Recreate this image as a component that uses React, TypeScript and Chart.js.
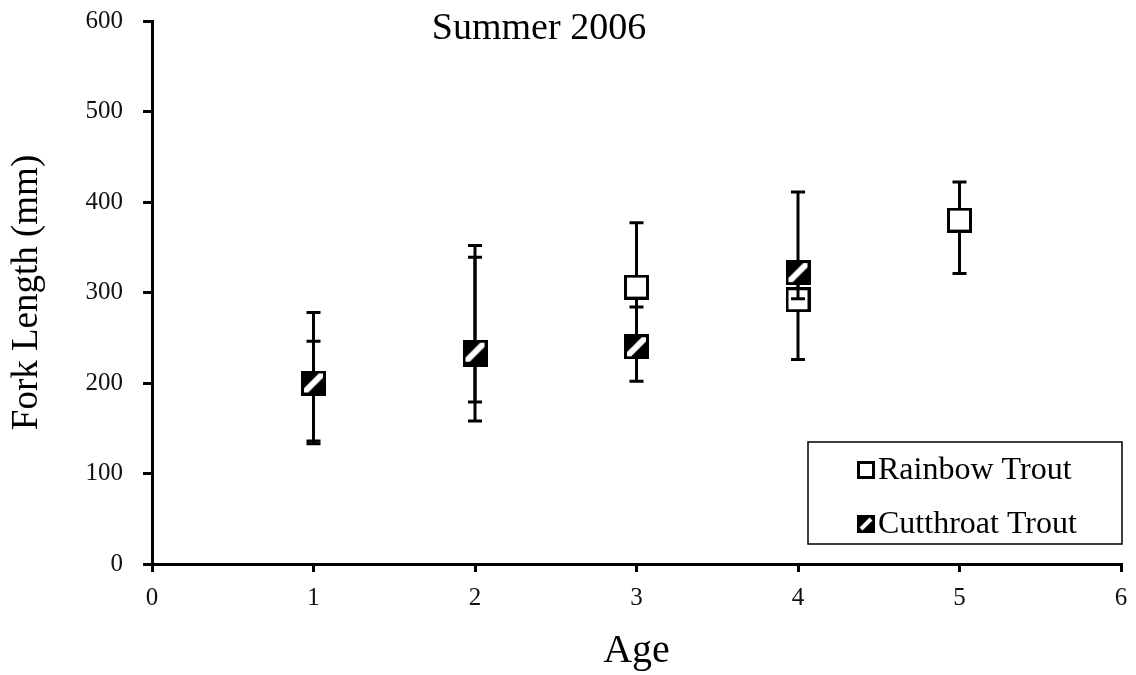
import React, { useEffect, useRef } from "react";
import { Chart, registerables } from "chart.js";

Chart.register(...registerables);

// ---- data ----
const ages = [1, 2, 3, 4, 5];
const rainbowMean = [199, 232, 306, 292, 380];
const rainbowHigh = [246, 339, 377, 330, 422];
const rainbowLow = [133, 179, 236, 226, 321];

const cutthroatAges = [1, 2, 3, 4];
const cutthroatMean = [200, 234, 240, 322];
const cutthroatHigh = [278, 352, 284, 411];
const cutthroatLow = [136, 158, 202, 293];

const seriesLabels = ["Rainbow Trout", "Cutthroat Trout"];
const chartTitle = "Summer 2006";
const xTitle = "Age";
const yTitle = "Fork Length (mm)";
const xTickValues = [0, 1, 2, 3, 4, 5, 6];
const yTickValues = [0, 100, 200, 300, 400, 500, 600];

const FONT = "'Liberation Serif', 'Times New Roman', serif";

function makeMarker(hatched: boolean, size: number, lw: number): HTMLCanvasElement {
  const c = document.createElement("canvas");
  c.width = size;
  c.height = size;
  const ctx = c.getContext("2d")!;
  ctx.fillStyle = "#fff";
  ctx.fillRect(0, 0, size, size);
  if (hatched) {
    ctx.save();
    ctx.beginPath();
    ctx.rect(lw, lw, size - 2 * lw, size - 2 * lw);
    ctx.clip();
    ctx.fillStyle = "#000";
    ctx.fillRect(0, 0, size, size);
    ctx.strokeStyle = "#fff";
    ctx.lineWidth = 6;
    ctx.beginPath();
    ctx.moveTo(0, size);
    ctx.lineTo(size, 0);
    ctx.stroke();
    ctx.restore();
  }
  ctx.strokeStyle = "#000";
  ctx.lineWidth = lw;
  ctx.strokeRect(lw / 2, lw / 2, size - lw, size - lw);
  return c;
}

function makeLegendIcon(hatched: boolean, size: number): HTMLCanvasElement {
  const c = document.createElement("canvas");
  c.width = size;
  c.height = size;
  const ctx = c.getContext("2d")!;
  if (hatched) {
    ctx.fillStyle = "#000";
    ctx.fillRect(0, 0, size, size);
    ctx.strokeStyle = "#fff";
    ctx.lineWidth = 4;
    ctx.beginPath();
    ctx.moveTo(4, size - 4);
    ctx.lineTo(size - 4, 4);
    ctx.stroke();
  } else {
    ctx.fillStyle = "#fff";
    ctx.fillRect(0, 0, size, size);
    ctx.strokeStyle = "#000";
    ctx.lineWidth = 3;
    ctx.strokeRect(1.5, 1.5, size - 3, size - 3);
  }
  return c;
}

const errorBarPlugin = {
  id: "errorBars",
  beforeDatasetDraw(chart: any, args: any) {
    const i = args.index;
    const ds: any = chart.data.datasets[i];
    const meta = chart.getDatasetMeta(i);
    const yScale = chart.scales.y;
    const ctx = chart.ctx;
    if (!ds.errHigh || !ds.errLow) return;
    ctx.save();
    ctx.strokeStyle = "#000";
    ctx.lineWidth = 3;
    const cap = 7;
    meta.data.forEach((pt: any, j: number) => {
      const x = pt.x;
      const yh = yScale.getPixelForValue(ds.errHigh[j]);
      const yl = yScale.getPixelForValue(ds.errLow[j]);
      ctx.beginPath();
      ctx.moveTo(x, yh);
      ctx.lineTo(x, yl);
      ctx.moveTo(x - cap, yh);
      ctx.lineTo(x + cap, yh);
      ctx.moveTo(x - cap, yl);
      ctx.lineTo(x + cap, yl);
      ctx.stroke();
    });
    ctx.restore();
  },
};

function makeAnnotationPlugin(icons: HTMLCanvasElement[]) {
  return {
    id: "annotations",
    afterDraw(chart: any) {
      const ctx = chart.ctx;
      ctx.save();
      // title
      ctx.fillStyle = "#000";
      ctx.font = `38px ${FONT}`;
      ctx.textAlign = "center";
      ctx.textBaseline = "alphabetic";
      ctx.fillText(chartTitle, 539, 39);
      // legend box
      const bx = 808, by = 442, bw = 314, bh = 102;
      ctx.strokeStyle = "#000";
      ctx.lineWidth = 1.5;
      ctx.strokeRect(bx, by, bw, bh);
      const rows = [470, 524];
      ctx.font = `32px ${FONT}`;
      ctx.textAlign = "left";
      ctx.textBaseline = "middle";
      chart.data.datasets.forEach((ds: any, i: number) => {
        const ic = icons[i];
        ctx.drawImage(ic, 866 - ic.width / 2, rows[i] - ic.height / 2);
        ctx.fillText(ds.label, 878, rows[i] + 1);
      });
      ctx.restore();
    },
  };
}

export default function App() {
  const ref = useRef<HTMLCanvasElement | null>(null);
  useEffect(() => {
    if (!ref.current) return;
    const rainbowMarker = makeMarker(false, 25, 3);
    const cutMarker = makeMarker(true, 25, 3);
    const icons = [makeLegendIcon(false, 18), makeLegendIcon(true, 18)];
    const chart: any = new Chart(ref.current, {
      type: "scatter",
      data: {
        datasets: [
          {
            label: seriesLabels[0],
            data: ages.map((a, i) => ({ x: a, y: rainbowMean[i] })),
            errHigh: rainbowHigh,
            errLow: rainbowLow,
            pointStyle: rainbowMarker,
            showLine: false,
            order: 1,
          } as any,
          {
            label: seriesLabels[1],
            data: cutthroatAges.map((a, i) => ({ x: a, y: cutthroatMean[i] })),
            errHigh: cutthroatHigh,
            errLow: cutthroatLow,
            pointStyle: cutMarker,
            showLine: false,
            order: 0,
          } as any,
        ],
      },
      options: {
        responsive: false,
        animation: false,
        devicePixelRatio: 1,
        layout: { padding: { top: 21, right: 15, left: 0, bottom: 0 } },
        plugins: {
          legend: { display: false },
          tooltip: { enabled: false },
          title: { display: false },
        },
        scales: {
          x: {
            type: "linear",
            min: 0,
            max: 6,
            afterFit: (s: any) => {
              s.height = 111;
              s.paddingLeft = 0;
              s.paddingRight = 0;
            },
            afterBuildTicks: (s: any) => {
              s.ticks = xTickValues.map((v) => ({ value: v }));
            },
            ticks: {
              color: "#111",
              font: { family: FONT, size: 25 },
              padding: 11,
              maxRotation: 0,
            },
            grid: {
              drawOnChartArea: false,
              drawTicks: true,
              tickLength: 8,
              color: "#000",
              lineWidth: 3,
            },
            border: { display: true, color: "#000", width: 3 },
            title: {
              display: true,
              text: xTitle,
              color: "#000",
              font: { family: FONT, size: 40 },
              padding: { top: 0, bottom: 0 },
            },
          },
          y: {
            type: "linear",
            min: 0,
            max: 600,
            afterFit: (s: any) => {
              s.width = 152;
              s.paddingTop = 0;
              s.paddingBottom = 0;
            },
            afterBuildTicks: (s: any) => {
              s.ticks = yTickValues.map((v) => ({ value: v }));
            },
            ticks: {
              color: "#111",
              font: { family: FONT, size: 25 },
              padding: 20,
            },
            grid: {
              drawOnChartArea: false,
              drawTicks: true,
              tickLength: 9,
              color: "#000",
              lineWidth: 3,
            },
            border: { display: true, color: "#000", width: 3 },
            title: {
              display: true,
              text: yTitle,
              color: "#000",
              font: { family: FONT, size: 37 },
              padding: { top: 5, bottom: 0 },
            },
          },
        },
      },
      plugins: [errorBarPlugin, makeAnnotationPlugin(icons)],
    } as any);
    return () => chart.destroy();
  }, []);
  return (
    <div style={{ position: "absolute", left: 0, top: 0, width: 1136, height: 675, background: "#fff" }}>
      <canvas ref={ref} width={1136} height={675} />
    </div>
  );
}
